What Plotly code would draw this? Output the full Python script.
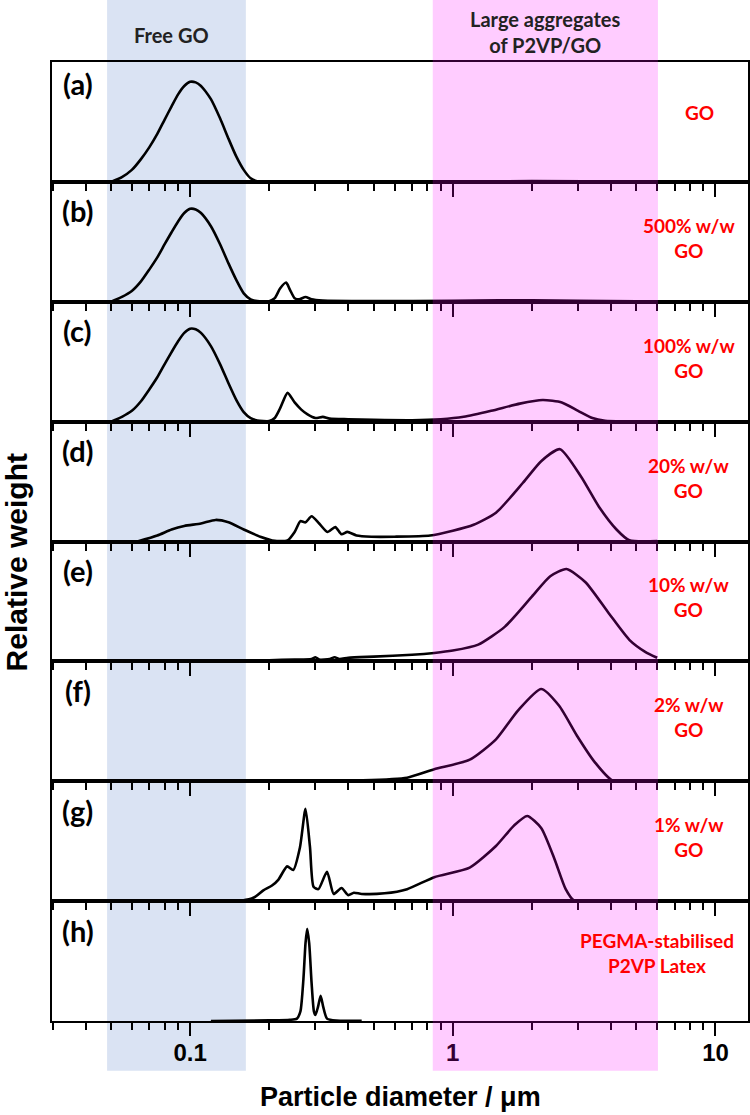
import math
import plotly.graph_objects as go
from plotly.subplots import make_subplots

# ---------------- data ----------------
panel_letters = ["(a)", "(b)", "(c)", "(d)", "(e)", "(f)", "(g)", "(h)"]
sample_labels = ["GO", "500% w/w<br>GO", "100% w/w<br>GO", "20% w/w<br>GO",
                 "10% w/w<br>GO", "2% w/w<br>GO", "1% w/w<br>GO",
                 "PEGMA-stabilised<br>P2VP Latex"]

a_x = [0.05, 0.055, 0.06, 0.065, 0.07, 0.075, 0.08, 0.085, 0.09, 0.095, 0.1, 0.105, 0.11, 0.12, 0.13, 0.14, 0.15, 0.16, 0.17, 0.18, 0.2, 0.5, 1.0, 2.0, 5.0, 10.0]
a_y = [0.0, 0.04, 0.10, 0.19, 0.29, 0.40, 0.52, 0.63, 0.73, 0.80, 0.835, 0.83, 0.80, 0.69, 0.53, 0.36, 0.21, 0.10, 0.03, 0.005, 0.003, 0.003, 0.005, 0.006, 0.005, 0.003]

b_x = [0.05, 0.055, 0.06, 0.065, 0.07, 0.075, 0.08, 0.085, 0.09, 0.095, 0.1, 0.105, 0.11, 0.12, 0.13, 0.14, 0.15, 0.16, 0.17, 0.18, 0.2, 0.21, 0.22, 0.232, 0.24, 0.25, 0.26, 0.275, 0.29, 0.32, 0.5, 1.0, 1.5, 2.0, 3.0, 5.0, 6.0]
b_y = [0.0, 0.04, 0.09, 0.17, 0.27, 0.37, 0.48, 0.58, 0.67, 0.74, 0.775, 0.77, 0.74, 0.63, 0.48, 0.32, 0.18, 0.07, 0.02, 0.005, 0.005, 0.03, 0.11, 0.16, 0.10, 0.03, 0.02, 0.04, 0.02, 0.01, 0.006, 0.008, 0.012, 0.012, 0.008, 0.004, 0.003]

c_x = [0.05, 0.055, 0.06, 0.065, 0.07, 0.075, 0.08, 0.085, 0.09, 0.095, 0.1, 0.105, 0.11, 0.12, 0.13, 0.14, 0.15, 0.16, 0.17, 0.18, 0.2, 0.21, 0.22, 0.235, 0.25, 0.265, 0.28, 0.30, 0.32, 0.34, 0.4, 0.5, 0.7, 0.9, 1.1, 1.4, 1.8, 2.2, 2.6, 3.0, 3.4, 3.8, 4.5, 6.0]
c_y = [0.0, 0.04, 0.09, 0.17, 0.27, 0.37, 0.48, 0.58, 0.67, 0.74, 0.775, 0.77, 0.74, 0.63, 0.48, 0.32, 0.18, 0.08, 0.03, 0.01, 0.005, 0.03, 0.11, 0.24, 0.16, 0.10, 0.06, 0.03, 0.04, 0.025, 0.02, 0.015, 0.012, 0.02, 0.04, 0.09, 0.15, 0.18, 0.16, 0.09, 0.03, 0.008, 0.003, 0.003]

d_x = [0.063, 0.075, 0.085, 0.095, 0.11, 0.125, 0.14, 0.16, 0.185, 0.21, 0.235, 0.25, 0.263, 0.275, 0.29, 0.31, 0.333, 0.357, 0.377, 0.397, 0.43, 0.49, 0.6, 0.82, 1.0, 1.2, 1.46, 1.85, 2.17, 2.56, 3.08, 3.6, 4.2, 4.7, 6.0]
d_y = [0.0, 0.05, 0.10, 0.13, 0.15, 0.18, 0.16, 0.10, 0.04, 0.005, 0.01, 0.08, 0.17, 0.16, 0.21, 0.15, 0.08, 0.12, 0.06, 0.08, 0.05, 0.04, 0.04, 0.05, 0.09, 0.14, 0.24, 0.49, 0.67, 0.77, 0.54, 0.29, 0.10, 0.01, 0.003]

e_x = [0.09, 0.12, 0.15, 0.2, 0.25, 0.29, 0.30, 0.31, 0.34, 0.355, 0.37, 0.4, 0.5, 0.7, 0.85, 1.0, 1.25, 1.58, 2.0, 2.35, 2.71, 3.2, 3.9, 4.7, 5.4, 6.0]
e_y = [0.003, 0.005, 0.005, 0.01, 0.015, 0.02, 0.035, 0.015, 0.02, 0.035, 0.02, 0.03, 0.04, 0.055, 0.07, 0.09, 0.14, 0.29, 0.54, 0.71, 0.77, 0.66, 0.41, 0.18, 0.08, 0.03]

f_x = [0.09, 0.11, 0.115, 0.12, 0.2, 0.3, 0.45, 0.67, 0.85, 1.16, 1.46, 1.77, 2.17, 2.54, 2.97, 3.47, 4.06, 6.0]
f_y = [0.003, 0.003, 0.008, 0.003, 0.003, 0.004, 0.008, 0.03, 0.10, 0.18, 0.35, 0.59, 0.77, 0.63, 0.38, 0.16, 0.005, 0.003]

g_x = [0.095, 0.13, 0.158, 0.175, 0.19, 0.205, 0.217, 0.234, 0.247, 0.262, 0.275, 0.286, 0.295, 0.308, 0.332, 0.352, 0.377, 0.40, 0.42, 0.45, 0.55, 0.67, 0.85, 1.16, 1.46, 1.71, 1.92, 2.17, 2.44, 2.69, 2.9, 4.0, 6.0]
g_y = [0.0, 0.002, 0.005, 0.03, 0.09, 0.13, 0.18, 0.29, 0.26, 0.45, 0.77, 0.45, 0.12, 0.10, 0.245, 0.06, 0.11, 0.05, 0.07, 0.06, 0.065, 0.10, 0.20, 0.28, 0.46, 0.63, 0.71, 0.61, 0.35, 0.10, 0.003, 0.002, 0.002]

h_x = [0.12, 0.2, 0.24, 0.255, 0.263, 0.27, 0.275, 0.279, 0.284, 0.29, 0.296, 0.30, 0.307, 0.314, 0.321, 0.332, 0.36, 0.45]
h_y = [0.0, 0.005, 0.01, 0.02, 0.08, 0.35, 0.65, 0.77, 0.65, 0.32, 0.08, 0.05, 0.12, 0.21, 0.12, 0.02, 0.003, 0.002]

curves_x = [a_x, b_x, c_x, d_x, e_x, f_x, g_x, h_x]
curves_y = [a_y, b_y, c_y, d_y, e_y, f_y, g_y, h_y]

major_ticks = [0.1, 1, 10]
major_text = ["0.1", "1", "10"]
minor_ticks = [0.03, 0.04, 0.05, 0.06, 0.07, 0.08, 0.09,
               0.2, 0.3, 0.4, 0.5, 0.6, 0.7, 0.8, 0.9,
               2, 3, 4, 5, 6, 7, 8, 9]
x_range_um = [0.0298, 13.3]

free_go_band = [0.0483, 0.163]
aggregate_band = [0.839, 6.04]
free_go_text = "Free GO"
aggregate_text = "Large aggregates<br>of P2VP/GO"
x_title = "Particle diameter / μm"
y_title = "Relative weight"

# ---------------- figure ----------------
n = len(curves_x)
fig = make_subplots(rows=n, cols=1, vertical_spacing=0)

for i in range(n):
    fig.add_trace(go.Scatter(x=curves_x[i], y=curves_y[i], mode="lines",
                             line=dict(color="black", width=2.6, shape="spline", smoothing=0.6),
                             showlegend=False, hoverinfo="skip"), row=i + 1, col=1)

arial = "Liberation Sans, Arial, sans-serif"
calibri = "Lato, Carlito, Calibri, sans-serif"

xr = [math.log10(x_range_um[0]), math.log10(x_range_um[1])]
for i in range(n):
    fig.update_xaxes(type="log", range=xr, showgrid=False, zeroline=False, automargin=False,
                     showline=True, mirror=True, linecolor="black", linewidth=2,
                     ticks="outside", ticklen=13, tickwidth=2, tickcolor="black",
                     tickvals=major_ticks, ticktext=major_text,
                     showticklabels=(i == n - 1), ticklabelstandoff=-4,
                     tickfont=dict(family=arial, size=24, color="black", weight="bold"),
                     minor=dict(ticks="outside", ticklen=7, tickwidth=2, tickcolor="black",
                                tickvals=minor_ticks, showgrid=False),
                     row=i + 1, col=1)
    fig.update_yaxes(range=[0, 1], showgrid=False, zeroline=False, showticklabels=False,
                     automargin=False, ticks="", showline=True, mirror=True,
                     linecolor="black", linewidth=2, row=i + 1, col=1)

# bands
fig.add_shape(type="rect", xref="x", yref="paper", x0=free_go_band[0], x1=free_go_band[1],
              y0=-0.052, y1=1.07, fillcolor="#dae3f3", line=dict(width=0), layer="below")
fig.add_shape(type="rect", xref="x", yref="paper", x0=aggregate_band[0], x1=aggregate_band[1],
              y0=-0.052, y1=1.07, fillcolor="rgba(255,0,255,0.2)", line=dict(width=0), layer="above")

fig.add_annotation(x=(math.log10(free_go_band[0]) + math.log10(free_go_band[1])) / 2 - 0.02,
                   xref="x", y=1.028, yref="paper", text=free_go_text, showarrow=False,
                   xanchor="center", yanchor="middle",
                   font=dict(family=calibri, size=20, color="#222222", weight="bold"))
fig.add_annotation(x=(math.log10(aggregate_band[0]) + math.log10(aggregate_band[1])) / 2,
                   xref="x", y=1.031, yref="paper", text=aggregate_text, showarrow=False,
                   xanchor="center", yanchor="middle",
                   font=dict(family=calibri, size=20, color="#222222", weight="bold"))

for i in range(n):
    yd = "y domain" if i == 0 else f"y{i + 1} domain"
    fig.add_annotation(x=0.037, xref="paper", y=1 - (22 if i == 0 else 29) / 120, yref=yd,
                       text=panel_letters[i], showarrow=False, xanchor="center", yanchor="middle",
                       font=dict(family=calibri, size=29, color="black", weight="bold"))
    if i == 0:
        xx, yy = 0.93, 1 - 51 / 120
    elif i == n - 1:
        xx, yy = 0.869, 1 - 52 / 120
    else:
        xx, yy = 0.915, 1 - 56 / 120
    fig.add_annotation(x=xx, xref="paper", y=yy, yref=yd, text=sample_labels[i],
                       showarrow=False, align="center", xanchor="center", yanchor="middle",
                       font=dict(family=calibri, size=19, color="#ff0000", weight="bold"))

fig.add_annotation(x=0.5, xref="paper", y=-0.0795, yref="paper", text=x_title,
                   showarrow=False, xanchor="center", yanchor="middle",
                   font=dict(family=arial, size=27, color="black", weight="bold"))
fig.add_annotation(x=-0.0505, xref="paper", y=0.478, yref="paper", text=y_title, textangle=-90,
                   showarrow=False, xanchor="center", yanchor="middle",
                   font=dict(family=arial, size=30, color="black", weight="bold"))

fig.update_layout(template="none", width=750, height=1115,
                  margin=dict(l=52, r=2, t=62, b=94, autoexpand=False),
                  paper_bgcolor="white", plot_bgcolor="rgba(0,0,0,0)", showlegend=False)

fig.write_html("out.html", config={"displayModeBar": False},
               post_script="document.body.style.margin='0';document.body.style.overflow='hidden';")
